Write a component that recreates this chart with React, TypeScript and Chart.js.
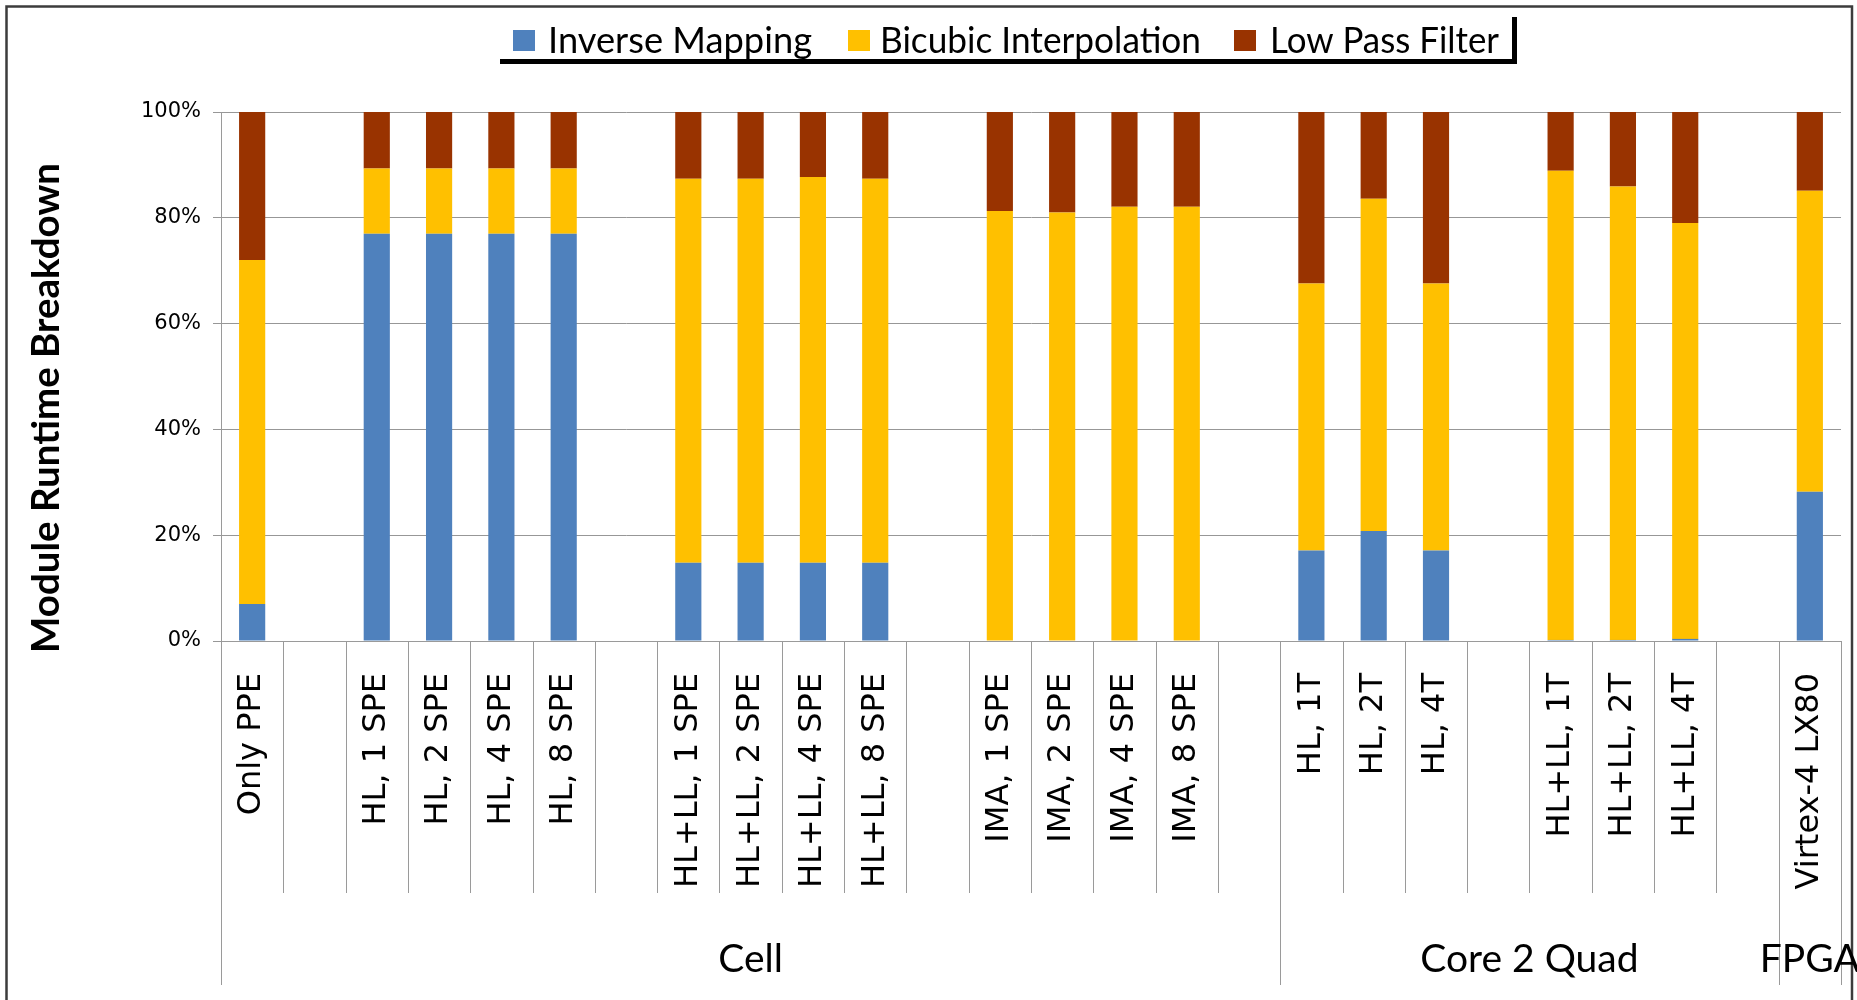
import React, { useEffect, useRef } from "react";
import { Chart, registerables } from "chart.js";

Chart.register(...registerables);

// Platform / configuration labels (empty strings are spacer columns)
const categories = [
  "Only PPE", "",
  "HL, 1 SPE", "HL, 2 SPE", "HL, 4 SPE", "HL, 8 SPE", "",
  "HL+LL, 1 SPE", "HL+LL, 2 SPE", "HL+LL, 4 SPE", "HL+LL, 8 SPE", "",
  "IMA, 1 SPE", "IMA, 2 SPE", "IMA, 4 SPE", "IMA, 8 SPE", "",
  "HL, 1T", "HL, 2T", "HL, 4T", "",
  "HL+LL, 1T", "HL+LL, 2T", "HL+LL, 4T", "",
  "Virtex-4 LX80",
];

// Share of runtime per module, in percent
const inverseMapping = [
  7.0, null,
  77.0, 77.0, 77.0, 77.0, null,
  14.8, 14.8, 14.8, 14.8, null,
  0, 0, 0, 0, null,
  17.1, 20.8, 17.1, null,
  0.2, 0.2, 0.4, null,
  28.2,
];
const bicubicInterpolation = [
  65.0, null,
  12.3, 12.3, 12.3, 12.3, null,
  72.6, 72.6, 72.9, 72.6, null,
  81.3, 81.0, 82.1, 82.1, null,
  50.5, 62.8, 50.5, null,
  88.7, 85.7, 78.6, null,
  56.9,
];
const lowPassFilter = [
  28.0, null,
  10.7, 10.7, 10.7, 10.7, null,
  12.6, 12.6, 12.3, 12.6, null,
  18.7, 19.0, 17.9, 17.9, null,
  32.4, 16.4, 32.4, null,
  11.1, 14.1, 21.0, null,
  14.9,
];

const seriesNames = ["Inverse Mapping", "Bicubic Interpolation", "Low Pass Filter"];
const seriesColors = ["#4f81bd", "#ffc000", "#993300"];

// Hardware groups and how many columns each one spans
const groupNames = ["Cell", "Core 2 Quad", "FPGA"];
const groupSpans = [17, 8, 1];

const yTitle = "Module Runtime Breakdown";
const yTicks = [0, 20, 40, 60, 80, 100];

const W = 1857;
const H = 1000;

// legend item placement: swatch left edge, text left edge, text width
const legendSwatchX = [513, 848, 1234];
const legendTextX = [548, 880, 1270];
const legendTextW = [264, 321, 229];

const decorations = {
  id: "decorations",
  afterDraw(chart: any) {
    const ctx: CanvasRenderingContext2D = chart.ctx;
    const xs = chart.scales.x;
    const area = chart.chartArea;

    ctx.save();

    // outer frame (bottom edge falls outside the canvas)
    ctx.strokeStyle = "#3c3c3c";
    ctx.lineWidth = 2.5;
    ctx.strokeRect(6.5, 6.5, 1845.5, 1100);

    // legend
    ctx.font = "37px Lato";
    ctx.textBaseline = "alphabetic";
    ctx.textAlign = "left";
    chart.data.datasets.forEach((ds: any, i: number) => {
      ctx.fillStyle = ds.backgroundColor;
      ctx.fillRect(legendSwatchX[i], 30, 22, 21);
      ctx.fillStyle = "#000";
      const w = ctx.measureText(ds.label).width;
      ctx.save();
      ctx.translate(legendTextX[i], 53);
      ctx.scale(legendTextW[i] / w, 1);
      ctx.fillText(ds.label, 0, 0);
      ctx.restore();
    });
    ctx.fillStyle = "#000";
    ctx.fillRect(500, 59, 1017, 5);
    ctx.fillRect(1512, 17, 5, 47);

    // y-axis title
    ctx.save();
    ctx.translate(47, 408);
    ctx.rotate(-Math.PI / 2);
    ctx.font = "bold 38px Lato";
    const tw = ctx.measureText(yTitle).width;
    ctx.scale(490 / tw, 1);
    ctx.textAlign = "center";
    ctx.textBaseline = "middle";
    ctx.fillStyle = "#000";
    ctx.fillText(yTitle, 0, 0);
    ctx.restore();

    // category separators below the axis
    const n = categories.length;
    const slot = (xs.right - xs.left) / n;
    const longAt = new Set<number>([0, n]);
    let acc = 0;
    groupSpans.forEach((s) => {
      acc += s;
      longAt.add(acc);
    });
    ctx.strokeStyle = "#9a9a9a";
    ctx.lineWidth = 1;
    for (let i = 0; i <= n; i++) {
      const bx =
        i === 0
          ? xs.left
          : i === n
          ? xs.right
          : (xs.getPixelForValue(i - 1) + xs.getPixelForValue(i)) / 2;
      const px = Math.round(bx) + 0.5;
      ctx.beginPath();
      ctx.moveTo(px, area.bottom);
      ctx.lineTo(px, longAt.has(i) ? 985 : 893);
      ctx.stroke();
    }

    // group labels
    ctx.font = "39px Lato";
    ctx.fillStyle = "#000";
    ctx.textAlign = "center";
    ctx.textBaseline = "alphabetic";
    let start = 0;
    groupSpans.forEach((s, gi) => {
      const cx = xs.left + slot * (start + s / 2);
      ctx.fillText(groupNames[gi], cx, 972);
      start += s;
    });

    ctx.restore();
  },
};

export default function App() {
  const canvasRef = useRef<HTMLCanvasElement | null>(null);

  useEffect(() => {
    const canvas = canvasRef.current;
    if (!canvas) return;
    const series = [inverseMapping, bicubicInterpolation, lowPassFilter];
    const chart = new Chart(canvas, {
      type: "bar",
      data: {
        labels: categories,
        datasets: series.map((d, i) => ({
          label: seriesNames[i],
          data: d,
          backgroundColor: seriesColors[i],
          borderWidth: 0,
          categoryPercentage: 1,
          barPercentage: 0.42,
        })),
      },
      options: {
        responsive: false,
        animation: false,
        events: [],
        layout: { padding: { top: 112, right: 16, left: 0, bottom: 0 } },
        plugins: {
          legend: { display: false },
          tooltip: { enabled: false },
          title: { display: false },
        },
        scales: {
          x: {
            stacked: true,
            grid: { display: false },
            border: { display: true, color: "#9a9a9a", width: 1 },
            ticks: {
              autoSkip: false,
              maxRotation: 90,
              minRotation: 90,
              padding: 24,
              color: "#000",
              font: { family: "DejaVu Sans", size: 32 },
            },
            afterFit: (scale: any) => {
              scale.height = H - 641;
              scale.paddingLeft = 0;
              scale.paddingRight = 0;
            },
          },
          y: {
            stacked: true,
            min: 0,
            max: 100,
            afterBuildTicks: (scale: any) => {
              scale.ticks = yTicks.map((v) => ({ value: v }));
            },
            grid: {
              color: "#979797",
              lineWidth: 1,
              drawTicks: true,
              tickLength: 8,
            },
            border: { display: true, color: "#9a9a9a", width: 1 },
            ticks: {
              padding: 12,
              color: "#000",
              font: { family: "DejaVu Sans", size: 21 },
              callback: (v: any) => `${v}%`,
            },
            afterFit: (scale: any) => {
              scale.width = 221;
            },
          },
        },
      },
      plugins: [decorations],
    });
    return () => chart.destroy();
  }, []);

  return (
    <div style={{ position: "absolute", left: 0, top: 0, width: W, height: H, background: "#fff" }}>
      <canvas ref={canvasRef} width={W} height={H} style={{ display: "block" }} />
    </div>
  );
}
